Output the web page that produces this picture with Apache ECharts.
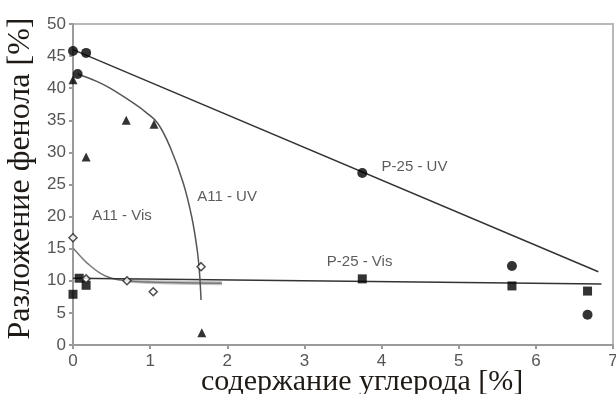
<!DOCTYPE html>
<html><head><meta charset="utf-8">
<script src="https://cdn.jsdelivr.net/npm/echarts@6/dist/echarts.min.js"></script>
<style>html,body{margin:0;padding:0;background:#fff}#c{width:616px;height:394px}</style>
</head><body><div id="c"></div>
<script>
// Data
const p25uvPoints = [[0.0, 45.8], [0.17, 45.5], [0.06, 42.2], [3.75, 26.8], [5.69, 12.3], [6.67, 4.7]];
const a11uvPoints = [[0.0, 41.3], [0.17, 29.3], [0.69, 35.0], [1.05, 34.4], [1.67, 1.9]];
const p25visPoints = [[0.0, 7.9], [0.08, 10.4], [0.17, 9.3], [3.75, 10.3], [5.69, 9.2], [6.67, 8.4]];
const a11visPoints = [[0.0, 16.7], [0.17, 10.3], [0.70, 10.0], [1.04, 8.3], [1.66, 12.2]];

const p25uvLine = [[0.0, 46.0], [6.81, 11.4]];
const p25visLine = [[0.0, 10.4], [6.85, 9.5]];
const a11uvCurve = [[0.06, 42.2], [0.3, 41.1], [0.48, 40.0], [0.78, 37.7], [0.95, 36.2], [1.1, 34.5], [1.26, 30.8], [1.43, 25.2], [1.54, 19.9], [1.61, 14.8], [1.64, 11.2], [1.66, 7.0]];
const a11visCurve = [[0.0, 15.1], [0.09, 13.9], [0.18, 12.8], [0.35, 11.2], [0.5, 10.4], [0.7, 10.0], [1.0, 9.8], [1.4, 9.7], [1.93, 9.6]];

const curveLabels = [
  { name: 'P-25 - UV', value: [4.0, 27.7] },
  { name: 'P-25 - Vis', value: [3.29, 12.9] },
  { name: 'A11 - UV', value: [1.61, 23.1] },
  { name: 'A11 - Vis', value: [0.25, 20.1] }
];

const xTickMin = 0, xTickMax = 7, xTickStep = 1;
const yTickMin = 0, yTickMax = 50, yTickStep = 5;
const xTitle = 'содержание углерода [%]';
const yTitle = 'Разложение фенола [%]';

const chart = echarts.init(document.getElementById('c'), null, { renderer: 'canvas' });
const tickFont = { color: '#555', fontFamily: 'Liberation Sans, Arial, sans-serif', fontSize: 17 };
const markerBase = { type: 'scatter', symbolSize: 9, z: 5, itemStyle: { color: '#000' } };

chart.setOption({
  animation: false,
  backgroundColor: '#fff',
  title: [
    { text: xTitle, left: 196, top: 362,
      textStyle: { fontFamily: 'Liberation Serif, Times New Roman, serif', fontWeight: 'normal', fontSize: 30, color: '#1e1a16' } }
  ],
  grid: { left: 73, right: 3, top: 24, bottom: 49, show: true, borderColor: '#b8b8b8', borderWidth: 2,
    containLabel: false, outerBoundsMode: 'none' },
  xAxis: {
    type: 'value', min: xTickMin, max: xTickMax, interval: xTickStep,
    axisLine: { show: true, lineStyle: { color: '#9a9a9a', width: 2 } },
    axisTick: { show: true, length: 4, lineStyle: { color: '#9a9a9a', width: 2 } },
    splitLine: { show: false },
    axisLabel: Object.assign({ margin: 8 }, tickFont)
  },
  yAxis: {
    type: 'value', min: yTickMin, max: yTickMax, interval: yTickStep,
    name: yTitle, nameLocation: 'middle', nameGap: 36,
    nameTextStyle: { fontFamily: 'Liberation Serif, Times New Roman, serif', fontSize: 32, color: '#1e1a16',
      padding: [0, 0, 0, 12] },
    axisLine: { show: true, lineStyle: { color: '#9a9a9a', width: 2 } },
    axisTick: { show: true, length: 4, lineStyle: { color: '#9a9a9a', width: 2 } },
    splitLine: { show: false },
    axisLabel: Object.assign({ margin: 7 }, tickFont)
  },
  series: [
    { type: 'line', data: p25uvLine, showSymbol: false, symbol: 'none', lineStyle: { color: '#333', width: 1.5 }, z: 3 },
    { type: 'line', data: p25visLine, showSymbol: false, symbol: 'none', lineStyle: { color: '#333', width: 1.5 }, z: 3 },
    { type: 'line', data: a11uvCurve, smooth: 0.4, showSymbol: false, symbol: 'none', lineStyle: { color: '#555', width: 1.5 }, z: 3 },
    { type: 'line', data: a11visCurve, smooth: 0.4, showSymbol: false, symbol: 'none', lineStyle: { color: '#777', width: 1.5 }, z: 2 },
    { type: 'line', data: a11visCurve.slice(5), showSymbol: false, symbol: 'none', lineStyle: { color: '#c4c4c4', width: 4 }, z: 1 },
    Object.assign({}, markerBase, { data: p25uvPoints, symbol: 'circle', symbolSize: 10 }),
    Object.assign({}, markerBase, { data: a11uvPoints, symbol: 'triangle', symbolSize: 9 }),
    Object.assign({}, markerBase, { data: p25visPoints, symbol: 'rect', symbolSize: 9 }),
    Object.assign({}, markerBase, { data: a11visPoints, symbol: 'diamond', symbolSize: 8,
      itemStyle: { color: '#fff', borderColor: '#222', borderWidth: 1.5 } }),
    { type: 'scatter', data: curveLabels, symbolSize: 0, z: 6, silent: true,
      label: { show: true, position: 'right', distance: 0, formatter: p => p.name,
        fontFamily: 'Liberation Sans, Arial, sans-serif', fontSize: 15, color: '#333' } }
  ]
});
</script></body></html>
